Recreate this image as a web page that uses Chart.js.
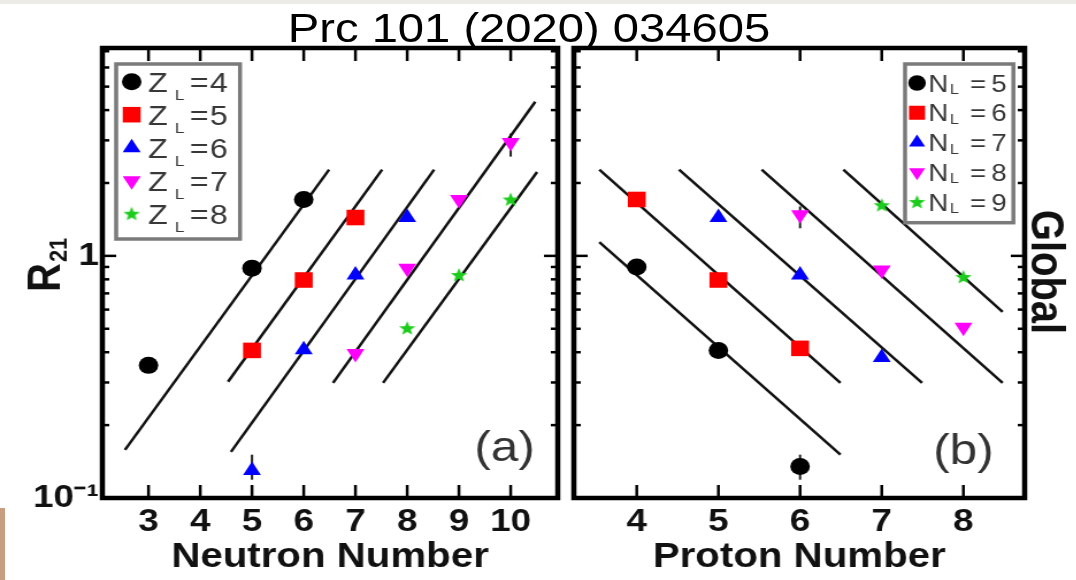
<!DOCTYPE html>
<html>
<head>
<meta charset="utf-8">
<script src="https://cdn.jsdelivr.net/npm/chart.js@4.4.1/dist/chart.umd.min.js"></script>
<style>
html, body { margin: 0; padding: 0; background: #fff; overflow: hidden; }
#band { position: absolute; left: 0; top: 0; width: 1076px; height: 4px; background: #ecebe5; }
/* the whole figure is drawn narrow and widened a little */
#stage { position: absolute; left: 0; top: 0; width: 936px; height: 580px; transform: scaleX(1.15); transform-origin: 0 0; }
#title { position: absolute; left: 0; top: 4px; width: 920px; text-align: center; font: 41px/48px "Liberation Sans", Arial, sans-serif; color: #000; white-space: nowrap; z-index: 2; }
#cl { position: absolute; left: 0; top: 0; }
#cr { position: absolute; left: 488px; top: 0; }
#scrap { position: absolute; left: 0; top: 508px; width: 4px; height: 72px; background: #c99d80; }
</style>
</head>
<body>
<div id="band"></div>
<div id="stage">
  <div id="title">Prc 101 (2020) 034605</div>
  <canvas id="cl" width="496" height="580"></canvas>
  <canvas id="cr" width="448" height="580"></canvas>
  <div id="scrap"></div>
</div>
<script>
// axes
const yTicks = [0.1, 0.2, 0.3, 0.4, 0.5, 0.6, 0.7, 0.8, 0.9, 1, 2, 3, 4, 5, 6, 7];
const yMin = 0.1, yMax = 7.22;
const neutronTicks = [3, 4, 5, 6, 7, 8, 9, 10];
const neutronRange = [2.108, 10.91];
const protonTicks = [4, 5, 6, 7, 8];
const protonRange = [3.23, 8.75];

// (a) R21 vs neutron number, one list per Z_L
const zl4N = [3, 5, 6],     zl4R = [0.353, 0.89, 1.71];
const zl5N = [5, 6, 7],     zl5R = [0.407, 0.795, 1.44];
const zl6N = [5, 6, 7, 8],  zl6R = [0.130, 0.41, 0.834, 1.44];
const zl7N = [7, 8, 9, 10], zl7R = [0.395, 0.89, 1.71, 2.94];
const zl8N = [8, 9, 10],    zl8R = [0.503, 0.834, 1.71];

// (b) R21 vs proton number, one list per N_L
const nl5Z = [4, 5, 6], nl5R = [0.90, 0.407, 0.135];
const nl6Z = [4, 5, 6], nl6R = [1.71, 0.795, 0.415];
const nl7Z = [5, 6, 7], nl7R = [1.44, 0.834, 0.38];
const nl8Z = [6, 7, 8], nl8R = [1.48, 0.875, 0.507];
const nl9Z = [7, 8],    nl9R = [1.62, 0.818];

// error bars: x, low, high
const errA = [[5, 0.119, 0.151], [10, 2.57, 3.2]];
const errB = [[6, 0.119, 0.151], [6, 1.30, 1.60]];

// straight guide lines: x1, y1, x2, y2
const guideA = [
  [2.545, 0.158, 6.49, 2.27],
  [4.537, 0.302, 7.515, 2.27],
  [4.594, 0.155, 8.52, 2.27],
  [6.567, 0.299, 10.475, 4.33],
  [7.534, 0.299, 10.51, 2.22]
];
const guideB = [
  [3.542, 2.27, 6.494, 0.299],
  [3.542, 1.14, 6.494, 0.151],
  [4.518, 2.27, 7.494, 0.299],
  [5.53, 2.27, 8.48, 0.299],
  [6.53, 2.27, 8.48, 0.587]
];

const legendA = ['4', '5', '6', '7', '8'];
const legendB = ['5', '6', '7', '8', '9'];

const FONT = '"Liberation Sans", Arial, sans-serif';
Chart.defaults.font.family = FONT;

// filled five point star, used as a point style
function makeStar(color) {
  const c = document.createElement('canvas');
  c.width = 18; c.height = 18;
  const g = c.getContext('2d');
  g.fillStyle = color;
  g.beginPath();
  for (let i = 0; i < 10; i++) {
    const r = i % 2 ? 3.2 : 7.5;
    const a = -Math.PI / 2 + i * Math.PI / 5;
    g.lineTo(9 + r * Math.cos(a), 9.5 + r * Math.sin(a));
  }
  g.closePath();
  g.fill();
  return c;
}

const marks = [
  {style: 'circle', r: 8.5, rot: 0, color: '#000000'},
  {style: 'rect', r: 11, rot: 0, color: '#ff0000'},
  {style: 'triangle', r: 9, rot: 0, color: '#0000ff'},
  {style: 'triangle', r: 9, rot: 180, color: '#ff00ff'},
  {style: makeStar('#1ccc1c'), r: 7, rot: 0, color: '#1ccc1c'}
];

function pts(xs, ys) { return xs.map((x, i) => ({x: x, y: ys[i]})); }

function markerSet(data, k) {
  const m = marks[k];
  return {data: data, pointStyle: m.style, pointRadius: m.r, pointHoverRadius: m.r,
    pointRotation: m.rot, backgroundColor: m.color, borderColor: m.color, borderWidth: 0, order: 1};
}

function guideSet(g) {
  return {data: [{x: g[0], y: g[1]}, {x: g[2], y: g[3]}], showLine: true, pointRadius: 0,
    pointHoverRadius: 0, borderColor: '#111', borderWidth: 2.5, order: 2};
}

function line(ctx, x1, y1, x2, y2) {
  ctx.beginPath(); ctx.moveTo(x1, y1); ctx.lineTo(x2, y2); ctx.stroke();
}

function drawLegend(ctx, lg) {
  const b = lg.box;
  ctx.save();
  ctx.fillStyle = '#fff';
  ctx.fillRect(b[0], b[1], b[2] - b[0], b[3] - b[1]);
  ctx.strokeStyle = '#7a7a7a';
  ctx.lineWidth = 3.5;
  ctx.strokeRect(b[0], b[1], b[2] - b[0], b[3] - b[1]);
  ctx.textAlign = 'left';
  ctx.textBaseline = 'alphabetic';
  lg.labels.forEach((t, i) => {
    const y = lg.y0 + i * lg.dy;
    const m = marks[i];
    ctx.fillStyle = m.color;
    Chart.helpers.drawPoint(ctx, {pointStyle: m.style, radius: m.r * lg.k, rotation: m.rot, borderWidth: 0}, lg.markX, y);
    ctx.fillStyle = '#383838';
    ctx.font = lg.size + 'px ' + FONT;
    ctx.fillText(lg.sym, lg.symX, y + lg.size * 0.36);
    ctx.fillText('=', lg.eqX, y + lg.size * 0.36);
    ctx.fillText(t, lg.numX, y + lg.size * 0.36);
    ctx.font = lg.sub + 'px ' + FONT;
    ctx.fillText('L', lg.subX, y + lg.subDy);
  });
  ctx.restore();
}

// frame with inward ticks, error bars, legend and panel texts
function panelPlugin(p) {
  return {
    id: 'panel',
    beforeDatasetsDraw(chart) {
      const {ctx, scales: {x, y}} = chart;
      ctx.save();
      ctx.strokeStyle = '#222';
      ctx.lineWidth = 2;
      p.err.forEach(e => {
        const px = x.getPixelForValue(e[0]);
        line(ctx, px, y.getPixelForValue(e[1]), px, y.getPixelForValue(e[2]));
      });
      ctx.restore();
    },
    afterDatasetsDraw(chart) {
      const {ctx, chartArea: a, scales: {x, y}} = chart;
      ctx.save();
      ctx.strokeStyle = '#000';
      ctx.lineWidth = 2.5;
      p.xTicks.forEach(v => {
        const px = x.getPixelForValue(v);
        line(ctx, px, a.bottom, px, a.bottom - 13);
        line(ctx, px, a.top, px, a.top + 13);
      });
      yTicks.forEach(v => {
        const py = y.getPixelForValue(v);
        const len = (v === 1 || v === 0.1) ? 12 : 6;
        line(ctx, a.left, py, a.left + len, py);
        line(ctx, a.right, py, a.right - len, py);
      });
      ctx.lineWidth = 4.5;
      ctx.strokeRect(a.left, a.top, a.right - a.left, a.bottom - a.top);

      drawLegend(ctx, p.legend);

      ctx.fillStyle = '#333';
      ctx.font = '43px ' + FONT;
      ctx.textAlign = 'center';
      ctx.textBaseline = 'alphabetic';
      ctx.fillText(p.tag, p.tagX, p.tagY);

      ctx.fillStyle = '#111';
      if (p.side === 'left') {
        // R_21, reading upwards
        ctx.save();
        ctx.translate(52, 292);
        ctx.rotate(-Math.PI / 2);
        ctx.textAlign = 'left';
        ctx.font = 'bold 40px ' + FONT;
        ctx.fillText('R', 0, 0);
        const w = ctx.measureText('R').width;
        ctx.font = 'bold 22px ' + FONT;
        ctx.fillText('21', w + 1, 6);
        ctx.restore();
      } else {
        ctx.save();
        ctx.translate(409, 272);
        ctx.rotate(Math.PI / 2);
        ctx.textAlign = 'center';
        ctx.font = 'bold 40px ' + FONT;
        ctx.fillText('Global', 0, 0);
        ctx.restore();
      }
      ctx.restore();
    }
  };
}

function makeChart(id, cfg) {
  const yWidth = cfg.side === 'left' ? 89 : 0;
  return new Chart(document.getElementById(id), {
    type: 'scatter',
    data: {datasets: cfg.datasets},
    options: {
      responsive: false,
      animation: false,
      events: [],
      layout: {padding: cfg.padding},
      plugins: {legend: {display: false}, tooltip: {enabled: false}},
      scales: {
        x: {
          type: 'linear',
          min: cfg.xRange[0],
          max: cfg.xRange[1],
          grid: {display: false, drawTicks: false},
          border: {display: false},
          afterBuildTicks: s => { s.ticks = cfg.xTicks.map(v => ({value: v})); },
          afterFit: s => { s.height = 82; },
          ticks: {autoSkip: false, maxRotation: 0, padding: 5, color: '#111',
            font: {size: 32, weight: 'bold'}},
          title: {display: true, text: cfg.xTitle, color: '#111',
            font: {size: 35, weight: 'bold'}, padding: {top: 0, bottom: 2}}
        },
        y: {
          type: 'logarithmic',
          display: cfg.side === 'left',
          min: yMin,
          max: yMax,
          grid: {display: false, drawTicks: false},
          border: {display: false},
          afterBuildTicks: s => { s.ticks = yTicks.map(v => ({value: v})); },
          afterFit: s => { s.width = yWidth; },
          ticks: {autoSkip: false, padding: 3, color: '#111', font: {size: 32, weight: 'bold'},
            callback: v => v === 1 ? '1' : (Math.abs(v - 0.1) < 1e-9 ? '10\u207B\u00B9' : '')}
        }
      }
    },
    plugins: [panelPlugin(cfg)]
  });
}

makeChart('cl', {
  side: 'left',
  padding: {top: 48, right: 4, left: 0, bottom: 0},
  xRange: neutronRange,
  xTicks: neutronTicks,
  xTitle: 'Neutron Number',
  err: errA,
  tag: '(a)', tagX: 438.7, tagY: 461,
  legend: {box: [101, 64, 208.7, 239], labels: legendA, y0: 81.7, dy: 33, k: 1,
    markX: 114.5, sym: 'Z', symX: 128.7, size: 28, sub: 15, subX: 152, subDy: 18,
    eqX: 165, numX: 182.6},
  datasets: [
    markerSet(pts(zl4N, zl4R), 0),
    markerSet(pts(zl5N, zl5R), 1),
    markerSet(pts(zl6N, zl6R), 2),
    markerSet(pts(zl7N, zl7R), 3),
    markerSet(pts(zl8N, zl8R), 4)
  ].concat(guideA.map(guideSet))
});

makeChart('cr', {
  side: 'right',
  padding: {top: 48, right: 45, left: 4, bottom: 0},
  xRange: protonRange,
  xTicks: protonTicks,
  xTitle: 'Proton Number',
  err: errB,
  tag: '(b)', tagX: 349.8, tagY: 464,
  legend: {box: [299, 64, 393.2, 222.7], labels: legendB, y0: 83, dy: 29.75, k: 0.9,
    markX: 309.4, sym: 'N', symX: 319.2, size: 24, sub: 14, subX: 338, subDy: 11,
    eqX: 355.5, numX: 374},
  datasets: [
    markerSet(pts(nl5Z, nl5R), 0),
    markerSet(pts(nl6Z, nl6R), 1),
    markerSet(pts(nl7Z, nl7R), 2),
    markerSet(pts(nl8Z, nl8R), 3),
    markerSet(pts(nl9Z, nl9R), 4)
  ].concat(guideB.map(guideSet))
});
</script>
</body>
</html>
